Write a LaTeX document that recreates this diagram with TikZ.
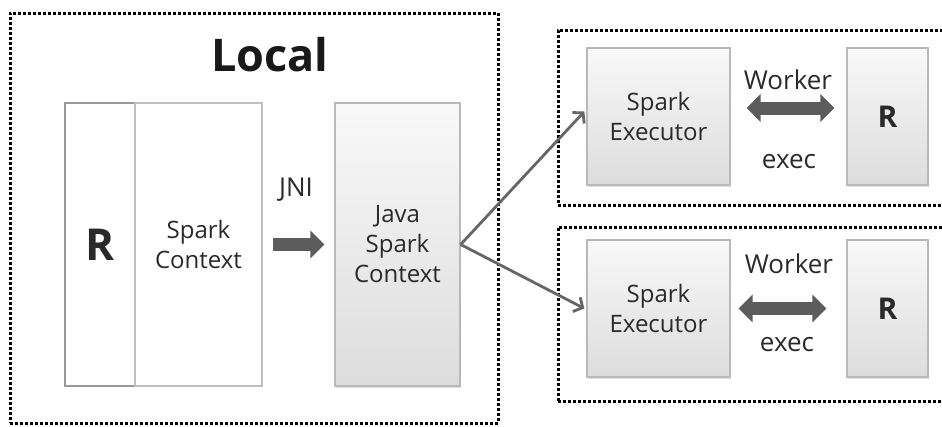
\documentclass[tikz,border=0pt]{standalone}
\usepackage{fontspec}
\setmainfont{Open Sans}
\usetikzlibrary{arrows.meta,shadows}
\definecolor{txt}{HTML}{2A2A2A}
\definecolor{arr}{HTML}{5C5C5C}
\begin{document}
\begin{tikzpicture}[x=1pt,y=-1pt,
  dotbox/.style={draw=black,line width=3pt,dash pattern=on 3pt off 2pt,inner sep=0pt},
  gbox/.style={draw=gray!55,line width=1.3pt,top color=gray!5,bottom color=gray!27,
    inner sep=0pt,align=center,text=txt,font=\fontsize{24}{30}\selectfont,
    drop shadow={shadow xshift=1.2pt,shadow yshift=-1.5pt,opacity=0.25}},
  wbox/.style={fill=white,line width=2.8pt,inner sep=0pt,align=center,text=txt},
  lbl/.style={text=txt,font=\fontsize{26}{30}\selectfont,inner sep=0pt},
  fat/.style={draw=arr,line width=13pt,-{Triangle[length=14pt,width=27pt]}},
  fatboth/.style={draw=arr,line width=13pt,{Triangle[length=14pt,width=27pt]}-{Triangle[length=14pt,width=27pt]}},
  thin/.style={draw=gray!80!black,line width=2.8pt,-{Straight Barb[length=7pt,width=16pt]}}
]
\useasboundingbox (0,0) rectangle (942,426);
\clip (0,0) rectangle (942,426);

% containers
\node[dotbox,minimum width=488,minimum height=410] (local) at (254,218) {};
\node[dotbox,minimum width=400,minimum height=175] (w1) at (758,117.5) {};
\node[dotbox,minimum width=400,minimum height=174] (w2) at (758,314) {};

\node[text=black!90,font=\bfseries\fontsize{45}{50}\selectfont,inner sep=0pt] (title) at (270,55) {Local};

% local side
\node[wbox,draw=gray!80,minimum width=70,minimum height=283,font=\bfseries\fontsize{44}{50}\selectfont] (rl) at (100,244.5) {R};
\node[wbox,draw=gray!50,minimum width=127,minimum height=283,font=\fontsize{24}{30}\selectfont] (sc) at (198.5,244.5) {Spark\\Context};
\node[gbox,minimum width=125,minimum height=283] (jsc) at (397.5,244.5) {Java\\Spark\\Context};

\node[lbl] (jni) at (296,190) {JNI};
\draw[fat] ([xshift=10pt]sc.east) -- ([xshift=-10pt]jsc.west);

% workers
\node[gbox,minimum width=143,minimum height=137] (ex1) at (658.5,116.5) {Spark\\Executor};
\node[gbox,minimum width=81,minimum height=137,font=\bfseries\fontsize{30}{34}\selectfont] (r1) at (887.5,116.5) {R};
\node[gbox,minimum width=143,minimum height=137] (ex2) at (658.5,308.5) {Spark\\Executor};
\node[gbox,minimum width=81,minimum height=137,font=\bfseries\fontsize{30}{34}\selectfont] (r2) at (887.5,308.5) {R};

\node[lbl] (wk1) at (788,80) {Worker};
\node[lbl] (ec1) at (789,162) {exec};
\node[lbl] (wk2) at (789,264) {Worker};
\node[lbl] (ec2) at (787,345) {exec};

\draw[fatboth] ([xshift=16pt,yshift=8.5pt]ex1.east) -- ([xshift=-12pt,yshift=8.5pt]r1.west);
\draw[fatboth] ([xshift=8pt]ex2.east) -- ([xshift=-20pt]r2.west);

\draw[thin] (jsc.east) -- ([xshift=-2pt,yshift=5pt]ex1.west);
\draw[thin] (jsc.east) -- ([xshift=-2pt]ex2.west);
\end{tikzpicture}
\end{document}
